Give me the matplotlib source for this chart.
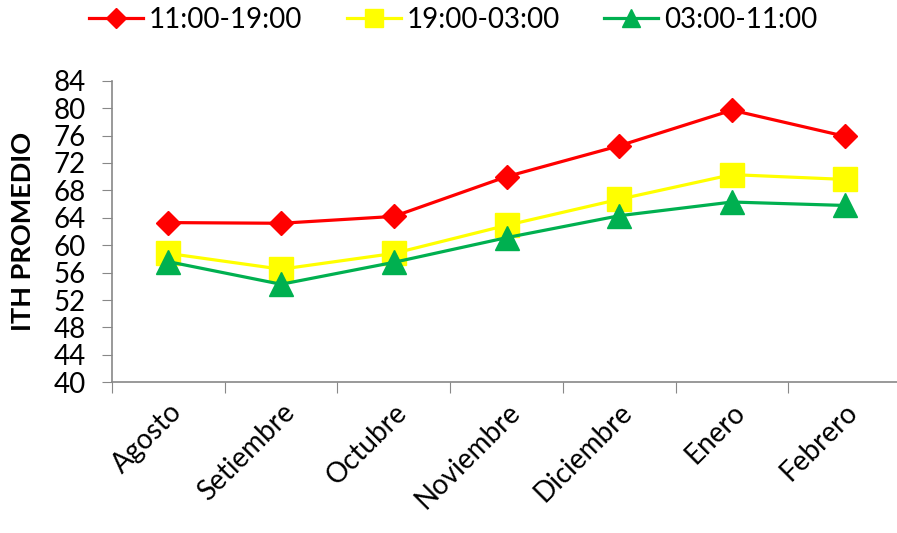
import matplotlib.pyplot as plt
import numpy as np

months = ['Agosto', 'Setiembre', 'Octubre', 'Noviembre', 'Diciembre', 'Enero', 'Febrero']
ith_11_19 = [63.3, 63.2, 64.2, 70.0, 74.5, 79.7, 75.9]
ith_19_03 = [58.8, 56.5, 58.8, 62.9, 66.7, 70.3, 69.6]
ith_03_11 = [57.6, 54.3, 57.5, 61.1, 64.3, 66.3, 65.8]
y_ticks = np.arange(40, 85, 4)

plt.rcParams['font.family'] = ['Lato', 'DejaVu Sans']

fig = plt.figure(figsize=(8.97, 5.33), dpi=100)
ax = fig.add_axes([112 / 897, 1 - 382.3 / 533, 789 / 897, 301.6 / 533])

x = np.arange(len(months))
ax.plot(x, ith_11_19, color='#FF0000', lw=2.3, marker='D', ms=12.5, label='11:00-19:00')
ax.plot(x, ith_19_03, color='#FFFF00', lw=2.3, marker='s', ms=17, label='19:00-03:00')
ax.plot(x, ith_03_11, color='#00B050', lw=2.3, marker='^', ms=17, label='03:00-11:00')

ax.set_xlim(-0.5, len(months) - 0.5)
ax.set_ylim(40, 84)
ax.set_yticks(y_ticks)
ax.tick_params(axis='y', labelsize=20, length=7, color='#888888', pad=12)

# category ticks sit between the months, labels at the months
ax.set_xticks(np.arange(-0.5, len(months) - 0.5, 1))
ax.set_xticklabels([])
ax.set_xticks(x, minor=True)
ax.set_xticklabels(months, minor=True, rotation=45, ha='right', rotation_mode='anchor', fontsize=20)
ax.tick_params(axis='x', which='major', length=8, color='#888888')
ax.tick_params(axis='x', which='minor', length=0, pad=12)

for side in ['top', 'right']:
    ax.spines[side].set_visible(False)
for side in ['left', 'bottom']:
    ax.spines[side].set_color('#888888')
    ax.spines[side].set_linewidth(1.2)
ax.spines['bottom'].set_zorder(0)

ax.set_ylabel('ITH PROMEDIO', fontsize=19.5, fontweight='bold')
ax.yaxis.set_label_coords(-0.097, 0.5)

fig.legend(loc='center', bbox_to_anchor=(453 / 897, 1 - 20 / 533), ncol=3, frameon=False,
           fontsize=20, handlelength=1.95, columnspacing=1.6, handletextpad=0.2, markerscale=0.8)

fig.savefig('out.png', dpi=100)
